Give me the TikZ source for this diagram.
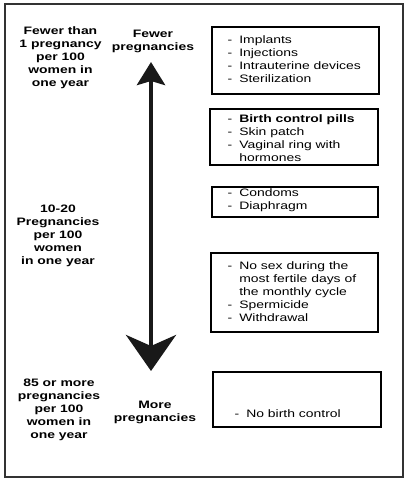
\documentclass[tikz,border=0pt]{standalone}
\usepackage{fontspec}
\setmainfont[FakeStretch=1.29]{Liberation Sans}
\usetikzlibrary{positioning,arrows.meta}
\newcommand{\txt}{\fontsize{10.8}{13}\selectfont}
\begin{document}
\begin{tikzpicture}[x=1pt,y=-1pt]
\tikzset{rate/.style={font=\txt\bfseries, align=center, inner sep=0},
  method/.style={draw=black, line width=1.1pt, inner sep=0},
  items/.style={font=\txt, inner sep=0}}
\useasboundingbox (0,0) rectangle (407,481);
\draw[line width=1.4pt, draw=black!80] (5,4) rectangle (403,477);

% rates on the left
\node[rate] at (60.5,57.5) (r1) {Fewer than\\1 pregnancy\\per 100\\women in\\one year};
\node[rate] at (58,236) (r2) {10-20\\Pregnancies\\per 100\\women\\in one year};
\node[rate] at (59,410) (r3) {85 or more\\pregnancies\\per 100\\women in\\one year};

% scale
\node[rate] at (153,41) (few) {Fewer\\pregnancies};
\node[rate] at (155,412) (more) {More\\pregnancies};
\coordinate (hi) at (151,62);
\coordinate (lo) at (151,371);
\draw[line width=4.5pt, draw=black!90, fill=black!90,
  {Stealth[length=23pt,width=28pt,inset=4pt]}-{Stealth[length=36pt,width=50pt,inset=11pt]}] (hi) -- (lo);

% methods
\node[method, minimum width=167pt, minimum height=67pt] at (295.5,60.5) (b1) {};
\node[method, minimum width=168pt, minimum height=56pt] at (294,137) (b2) {};
\node[method, minimum width=166pt, minimum height=30pt] at (295,202) (b3) {};
\node[method, minimum width=167pt, minimum height=79pt] at (294.5,292.5) (b4) {};
\node[method, minimum width=168pt, minimum height=55pt] at (297,399.5) (b5) {};

\node[items, below right=8pt and 16pt of b1.north west] (l1) {\begin{tabular}{@{}l@{\hspace{7pt}}l@{}}
-&Implants\\-&Injections\\-&Intrauterine devices\\-&Sterilization\end{tabular}};
\node[items, below right=5pt and 18pt of b2.north west] (l2) {\begin{tabular}{@{}l@{\hspace{7pt}}l@{}}
-&\textbf{Birth control pills}\\-&Skin patch\\-&Vaginal ring with\\&hormones\end{tabular}};
\node[items, below right=1pt and 16pt of b3.north west] (l3) {\begin{tabular}{@{}l@{\hspace{7pt}}l@{}}
-&Condoms\\-&Diaphragm\end{tabular}};
\node[items, below right=8pt and 17pt of b4.north west] (l4) {\begin{tabular}{@{}l@{\hspace{7pt}}l@{}}
-&No sex during the\\&most fertile days of\\&the monthly cycle\\-&Spermicide\\-&Withdrawal\end{tabular}};
\node[items, below right=37pt and 22pt of b5.north west] (l5) {\begin{tabular}{@{}l@{\hspace{7pt}}l@{}}
-&No birth control\end{tabular}};
\end{tikzpicture}
\end{document}
